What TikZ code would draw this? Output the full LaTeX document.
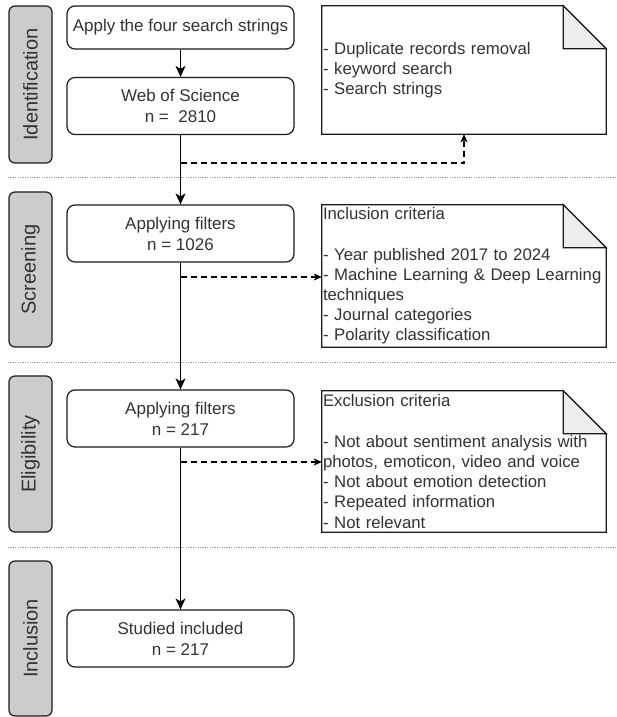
\documentclass[tikz,border=0pt]{standalone}
\usepackage{fontspec}
\setmainfont{Liberation Sans}
\usetikzlibrary{arrows.meta}
\definecolor{txt}{HTML}{333333}
\definecolor{edge}{HTML}{1A1A1A}
\definecolor{phasefill}{HTML}{CCCCCC}
\definecolor{foldfill}{HTML}{EEEEEE}
\definecolor{sep}{HTML}{9A9A9A}
\tikzset{
  stepbox/.style={draw=edge, line width=1.2pt, rounded corners=8pt, fill=white,
    minimum width=227pt, minimum height=57pt, align=center, text=txt,
    font=\fontsize{17}{21}\selectfont, inner sep=0pt},
  phasebox/.style={draw=edge, line width=1.2pt, rounded corners=6pt, fill=phasefill,
    minimum width=43pt, inner sep=0pt, text=txt, font=\fontsize{20}{24}\selectfont},
  notearea/.style={minimum width=284pt, inner sep=0pt},
  notetext/.style={anchor=west, inner xsep=1pt, inner ysep=0pt, text width=300pt,
    align=left, text=txt, font=\fontsize{16.75}{20.2}\selectfont},
  mainarrow/.style={draw=black, line width=1.3pt, -{Stealth[length=11pt,width=10pt,inset=3pt]}},
  dasharrow/.style={draw=black, line width=1.1pt, dash pattern=on 6pt off 4pt,
    -{Stealth[length=8pt,width=7pt,inset=2pt]}},
  sepline/.style={draw=sep, line width=0.9pt, dash pattern=on 1.2pt off 1.2pt},
}
\newcommand{\notebox}[1]{%
  \draw[draw=edge, line width=1.2pt, fill=white]
    (#1.north west) -- ([xshift=-43pt]#1.north east) -- ([yshift=-43pt]#1.north east)
    -- (#1.south east) -- (#1.south west) -- cycle;
  \draw[draw=edge, line width=1.2pt, fill=foldfill]
    ([xshift=-43pt]#1.north east) -- ([xshift=-43pt,yshift=-43pt]#1.north east)
    -- ([yshift=-43pt]#1.north east) -- cycle;
}
\begin{document}
\begin{tikzpicture}[x=1pt,y=-1pt]
\useasboundingbox (0,0) rectangle (616,717);

% separators
\draw[sepline] (8,177) coordinate (s1a) -- (616,177) coordinate (s1b);
\draw[sepline] (8,362) coordinate (s2a) -- (616,362) coordinate (s2b);
\draw[sepline] (8,547) coordinate (s3a) -- (616,547) coordinate (s3b);

% phase labels
\node[phasebox, minimum height=157pt] (pid) at (30.5,84.5) {\rotatebox{90}{Identification}};
\node[phasebox, minimum height=155pt] (psc) at (30.5,269.5) {\rotatebox{90}{Screening}};
\node[phasebox, minimum height=156pt] (pel) at (30.5,454) {\rotatebox{90}{Eligibility}};
\node[phasebox, minimum height=155pt] (pin) at (30.5,638.5) {\rotatebox{90}{Inclusion}};

% main boxes
\node[stepbox, minimum height=43pt] (apply) at (180.5,27.5) {Apply the four search strings};
\node[stepbox] (wos) at (180.5,106) {Web of Science\\n =\ \ 2810};
\node[stepbox] (af1) at (180.5,233.5) {Applying filters\\n = 1026};
\node[stepbox] (af2) at (180.5,418.5) {Applying filters\\n = 217};
\node[stepbox] (inc) at (180.5,638.5) {Studied included\\n = 217};

% notes
\node[notearea, minimum height=128pt] (n1) at (464,70) {};
\notebox{n1}
\node[notetext] (n1t) at (n1.west) {- Duplicate records removal\\- keyword search\\- Search strings};

\node[notearea, minimum height=142pt] (n2) at (464,276) {};
\notebox{n2}
\node[notetext] (n2t) at (n2.west) {Inclusion criteria\\[20.2pt]- Year published 2017 to 2024\\- Machine Learning \& Deep Learning\\techniques\\- Journal categories\\- Polarity classification};

\node[notearea, minimum height=141pt] (n3) at (464,461.5) {};
\notebox{n3}
\node[notetext] (n3t) at (n3.west) {Exclusion criteria\\[20.2pt]- Not about sentiment analysis with\\photos, emoticon, video and voice\\- Not about emotion detection\\- Repeated information\\- Not relevant};

% main flow
\draw[mainarrow] (apply) -- (wos);
\draw[mainarrow] (wos) -- (af1);
\draw[mainarrow] (af1) -- (af2);
\draw[mainarrow] (af2) -- (inc);

% dashed branches
\coordinate (b1) at (180.5,163);
\coordinate (b2) at (180.5,277);
\coordinate (b3) at (180.5,462);
\draw[dasharrow] (b1) -| (n1.south);
\draw[dasharrow] (b2) -- (b2 -| n2.west);
\draw[dasharrow] (b3) -- (b3 -| n3.west);
\end{tikzpicture}
\end{document}
